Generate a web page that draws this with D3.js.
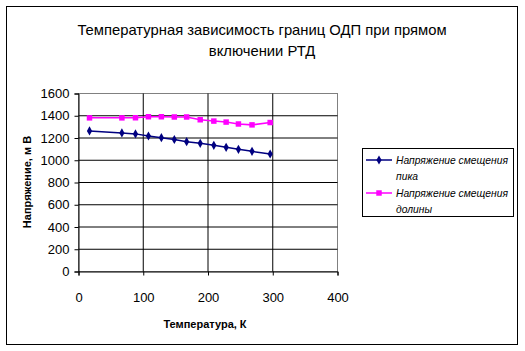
<!DOCTYPE html>
<html>
<head>
<meta charset="utf-8">
<script src="https://cdn.jsdelivr.net/npm/d3@7"></script>
<style>
  body { margin: 0; background: #fff; }
  text { font-family: "Liberation Sans", Arial, sans-serif; }
</style>
</head>
<body>
<script>
// temperatures, K
var temps = [17, 67, 88, 108, 128, 148, 167, 188, 209, 228, 247, 268, 296];
// peak offset voltage, mV
var peakVals = [1264, 1246, 1237, 1218, 1203, 1186, 1167, 1152, 1134, 1116, 1098, 1080, 1056];
// valley offset voltage, mV
var valleyVals = [1381, 1381, 1382, 1391, 1391, 1389, 1389, 1364, 1352, 1343, 1326, 1318, 1339];

var xTicks = [0, 100, 200, 300, 400];
var yTicks = [0, 200, 400, 600, 800, 1000, 1200, 1400, 1600];

var titleLines = ["Температурная зависимость границ ОДП при прямом", "включении РТД"];
var seriesNames = [["Напряжение смещения", "пика"], ["Напряжение смещения", "долины"]];

var w = 525, h = 351;

var svg = d3.select("body").append("svg")
    .attr("width", w)
    .attr("height", h);

// outer frame
svg.append("rect")
    .attr("x", 6.5).attr("y", 6.5)
    .attr("width", 511).attr("height", 338)
    .attr("fill", "#fff")
    .attr("stroke", "#000");

var xScale = d3.scaleLinear().domain([0, 400]).range([78.5, 337.5]);
var yScale = d3.scaleLinear().domain([0, 1600]).range([271.5, 93.5]);

// plot area border (grey)
svg.append("rect")
    .attr("x", xScale(0)).attr("y", yScale(1600))
    .attr("width", xScale(400) - xScale(0))
    .attr("height", yScale(0) - yScale(1600))
    .attr("fill", "none")
    .attr("stroke", "#808080");

// gridlines
svg.selectAll(".hgrid")
    .data(yTicks.filter(function(d) { return d > 0 && d < 1600; }))
    .enter().append("line")
    .attr("x1", xScale(0)).attr("x2", xScale(400))
    .attr("y1", function(d) { return yScale(d); })
    .attr("y2", function(d) { return yScale(d); })
    .attr("stroke", "#000");

svg.selectAll(".vgrid")
    .data(xTicks.filter(function(d) { return d > 0 && d < 400; }))
    .enter().append("line")
    .attr("y1", yScale(0)).attr("y2", yScale(1600))
    .attr("x1", function(d) { return xScale(d); })
    .attr("x2", function(d) { return xScale(d); })
    .attr("stroke", "#000");

// axes
var xAxis = d3.axisBottom(xScale).tickValues(xTicks).tickFormat(d3.format("d"))
    .tickSizeOuter(0).tickSize(4).tickPadding(17);
var yAxis = d3.axisLeft(yScale).tickValues(yTicks).tickFormat(d3.format("d"))
    .tickSizeOuter(0).tickSize(4).tickPadding(5);

svg.append("g")
    .attr("transform", "translate(0," + yScale(0) + ")")
    .call(xAxis)
    .call(function(g) {
        g.select(".domain").attr("stroke", "#000");
        g.selectAll("line").attr("stroke", "#000");
        g.selectAll("text").attr("font-size", 13).attr("fill", "#000")
            .style("font-family", "'Liberation Sans', Arial, sans-serif");
    });

svg.append("g")
    .attr("transform", "translate(" + xScale(0) + ",0)")
    .call(yAxis)
    .call(function(g) {
        g.select(".domain").attr("stroke", "#000");
        g.selectAll("line").attr("stroke", "#000");
        g.selectAll("text").attr("font-size", 13).attr("fill", "#000")
            .style("font-family", "'Liberation Sans', Arial, sans-serif");
    });

// lines
var line = d3.line()
    .x(function(d) { return xScale(d[0]); })
    .y(function(d) { return yScale(d[1]); });

var peakData = d3.zip(temps, peakVals);
var valleyData = d3.zip(temps, valleyVals);

svg.append("path")
    .datum(peakData)
    .attr("d", line)
    .attr("fill", "none")
    .attr("stroke", "#000080")
    .attr("stroke-width", 1.5);

svg.append("path")
    .datum(valleyData)
    .attr("d", line)
    .attr("fill", "none")
    .attr("stroke", "#FF00FF")
    .attr("stroke-width", 1.5);

// markers
var diamond = d3.symbol().type(d3.symbolDiamond).size(24);
var square = d3.symbol().type(d3.symbolSquare).size(30);

svg.selectAll(".peakpt")
    .data(peakData)
    .enter().append("path")
    .attr("d", diamond)
    .attr("transform", function(d) { return "translate(" + xScale(d[0]) + "," + yScale(d[1]) + ")"; })
    .attr("fill", "#000080");

svg.selectAll(".valleypt")
    .data(valleyData)
    .enter().append("path")
    .attr("d", square)
    .attr("transform", function(d) { return "translate(" + xScale(d[0]) + "," + yScale(d[1]) + ")"; })
    .attr("fill", "#FF00FF");

// title
svg.selectAll(".title")
    .data(titleLines)
    .enter().append("text")
    .attr("x", 262)
    .attr("y", function(d, i) { return 35 + i * 21; })
    .attr("text-anchor", "middle")
    .attr("font-size", 14.8)
    .text(function(d) { return d; });

// axis titles
svg.append("text")
    .attr("x", 205)
    .attr("y", 328)
    .attr("text-anchor", "middle")
    .attr("font-size", 11)
    .attr("font-weight", "bold")
    .text("Температура, К");

svg.append("text")
    .attr("transform", "translate(31,182) rotate(-90)")
    .attr("text-anchor", "middle")
    .attr("font-size", 11)
    .attr("font-weight", "bold")
    .text("Напряжение, м В");

// legend
var legend = svg.append("g");
legend.append("rect")
    .attr("x", 362.5).attr("y", 148.5)
    .attr("width", 151).attr("height", 68)
    .attr("fill", "#fff")
    .attr("stroke", "#000");

var colors = ["#000080", "#FF00FF"];
var symbols = [diamond, square];

seriesNames.forEach(function(lines, i) {
    var y0 = 160 + i * 33;
    legend.append("line")
        .attr("x1", 366).attr("x2", 392)
        .attr("y1", y0).attr("y2", y0)
        .attr("stroke", colors[i])
        .attr("stroke-width", 1.5);
    legend.append("path")
        .attr("d", symbols[i])
        .attr("transform", "translate(379," + y0 + ")")
        .attr("fill", colors[i]);
    lines.forEach(function(t, j) {
        legend.append("text")
            .attr("x", 396)
            .attr("y", y0 + 4 + j * 16)
            .attr("font-size", 10.3)
            .attr("font-style", "italic")
            .text(t);
    });
});
</script>
</body>
</html>
